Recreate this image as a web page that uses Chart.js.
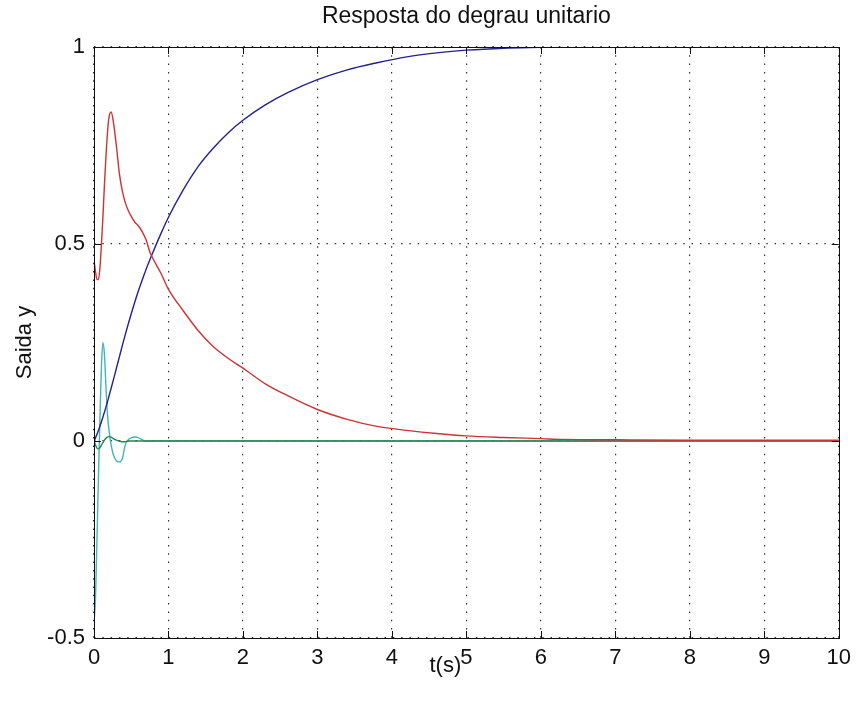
<!DOCTYPE html>
<html>
<head>
<meta charset="utf-8">
<title>Resposta do degrau unitario</title>
<script src="https://cdn.jsdelivr.net/npm/chart.js@4.4.1/dist/chart.umd.min.js"></script>
<style>
   body { margin: 0; background: #fff; }
   canvas { display: block; }
</style>
</head>
<body>
<canvas id="myChart" width="858" height="704"></canvas>
<script>
// tempo (s)
var t = [0, 0.02, 0.04, 0.06, 0.08, 0.10, 0.12, 0.14, 0.16, 0.18,
         0.20, 0.23, 0.26, 0.30, 0.34, 0.38, 0.42, 0.46, 0.50, 0.55,
         0.60, 0.65, 0.70, 0.75, 0.80, 0.90, 1.0, 1.2, 1.4, 1.6,
         1.8, 2.0, 2.3, 2.6, 3.0, 3.4, 3.8, 4.2, 4.6, 5.0,
         5.5, 6.0, 6.3, 7, 8, 9, 10];

var yBlue = [0, 0.008, 0.017, 0.027, 0.038, 0.049, 0.061, 0.073, 0.086, 0.099,
             0.113, 0.134, 0.155, 0.184, 0.213, 0.242, 0.270, 0.297, 0.323, 0.354,
             0.383, 0.410, 0.436, 0.460, 0.483, 0.527, 0.568, 0.638, 0.697, 0.743,
             0.782, 0.814, 0.853, 0.884, 0.917, 0.942, 0.960, 0.975, 0.985, 0.992,
             0.997, 0.999, 1.0, null, null, null, null];

var yRed = [0.46, 0.43, 0.41, 0.41, 0.44, 0.50, 0.57, 0.65, 0.72, 0.78,
            0.82, 0.835, 0.81, 0.75, 0.68, 0.635, 0.605, 0.585, 0.57, 0.555,
            0.545, 0.53, 0.51, 0.48, 0.46, 0.425, 0.385, 0.33, 0.28, 0.24,
            0.21, 0.185, 0.145, 0.115, 0.08, 0.055, 0.037, 0.027, 0.019, 0.013,
            0.009, 0.006, 0.004, 0.003, 0.002, 0.002, 0.002];

var yCyan = [-0.46, -0.40, -0.25, -0.09, 0.06, 0.19, 0.25, 0.22, 0.14, 0.07,
             0.03, -0.01, -0.035, -0.05, -0.053, -0.045, -0.01, 0.003, 0.008, 0.01,
             0.008, 0.003, 0, 0, 0, 0, 0, 0, 0, 0,
             0, 0, 0, 0, 0, 0, 0, 0, 0, 0,
             0, 0, 0, 0, 0, 0, 0];

var yGreen = [0, -0.01, -0.018, -0.02, -0.017, -0.01, -0.004, 0.002, 0.007, 0.01,
              0.011, 0.01, 0.006, 0.002, 0, -0.002, -0.002, 0, 0, 0,
              0, 0, 0, 0, 0, 0, 0, 0, 0, 0,
              0, 0, 0, 0, 0, 0, 0, 0, 0, 0,
              0, 0, 0, 0, 0, 0, 0];

var xTicks = [0, 1, 2, 3, 4, 5, 6, 7, 8, 9, 10];
var xTickLabels = ['0', '1', '2', '3', '4', '5', '6', '7', '8', '9', '10'];
var yTicks = [-0.5, 0, 0.5, 1];
var yTickLabels = ['-0.5', '0', '0.5', '1'];

var titleText = 'Resposta do degrau unitario';
var xLabel = 't(s)';
var yLabel = 'Saida y';

function points(ys) {
   var out = [];
   for (var i = 0; i < t.length; i++) {
      if (ys[i] !== null) out.push({x: t[i], y: ys[i]});
   }
   return out;
}

function line(ys, color, order) {
   return {
      data: points(ys),
      borderColor: color,
      borderWidth: 1.4,
      pointRadius: 0,
      fill: false,
      cubicInterpolationMode: 'monotone',
      order: order
   };
}

// box, inward ticks and the x label (matlab puts it a bit left of centre)
var axesBox = {
   id: 'axesBox',
   afterDraw: function(chart) {
      var ctx = chart.ctx;
      var a = chart.chartArea;
      var sx = chart.scales.x, sy = chart.scales.y;
      var len = 7;
      ctx.save();
      ctx.strokeStyle = '#111';
      ctx.lineWidth = 1;
      ctx.strokeRect(Math.round(a.left) + 0.5, Math.round(a.top) + 0.5,
                     Math.round(a.right - a.left), Math.round(a.bottom - a.top));
      ctx.beginPath();
      xTicks.forEach(function(v) {
         var px = Math.round(sx.getPixelForValue(v)) + 0.5;
         ctx.moveTo(px, a.bottom); ctx.lineTo(px, a.bottom - len);
         ctx.moveTo(px, a.top); ctx.lineTo(px, a.top + len);
      });
      yTicks.forEach(function(v) {
         var py = Math.round(sy.getPixelForValue(v)) + 0.5;
         ctx.moveTo(a.left, py); ctx.lineTo(a.left + len, py);
         ctx.moveTo(a.right, py); ctx.lineTo(a.right - len, py);
      });
      ctx.stroke();

      ctx.fillStyle = '#111';
      ctx.font = "22px 'Liberation Sans', Arial, sans-serif";
      ctx.textAlign = 'center';
      ctx.textBaseline = 'middle';
      ctx.fillText(xLabel, (a.left + a.right) / 2 - 21, a.bottom + 28);
      ctx.restore();
   }
};

Chart.defaults.font.family = "'Liberation Sans', Arial, sans-serif";
Chart.defaults.color = '#111';

var context = document.getElementById('myChart').getContext('2d');
var chart = new Chart(context, {
   type: 'line',
   data: {
      datasets: [
         line(yRed, '#cc3333', 1),
         line(yBlue, '#22228f', 2),
         line(yGreen, '#208850', 3),
         line(yCyan, '#44b6b6', 4)
      ]
   },
   options: {
      responsive: false,
      animation: false,
      devicePixelRatio: 1,
      layout: { padding: { left: 0, right: 17, top: 0, bottom: 0 } },
      plugins: {
         legend: { display: false },
         tooltip: { enabled: false },
         title: {
            display: true,
            fullSize: false,
            text: titleText,
            color: '#111',
            font: { size: 23, weight: 'normal' },
            padding: { top: 3, bottom: 16.4 }
         }
      },
      scales: {
         x: {
            type: 'linear',
            min: 0,
            max: 10,
            afterBuildTicks: function(scale) {
               scale.ticks = xTicks.map(function(v) { return {value: v}; });
            },
            afterFit: function(scale) { scale.height = 66; },
            ticks: {
               font: { size: 22 }, color: '#111', padding: 7, maxRotation: 0, autoSkip: false,
               callback: function(v, i) { return xTickLabels[i]; }
            },
            grid: { color: '#333', lineWidth: 1.2, drawTicks: false },
            border: { display: false, dash: [1.5, 6.8] }
         },
         y: {
            type: 'linear',
            min: -0.5,
            max: 1,
            afterBuildTicks: function(scale) {
               scale.ticks = yTicks.map(function(v) { return {value: v}; });
            },
            afterFit: function(scale) { scale.width = 94; },
            ticks: {
               font: { size: 22 }, color: '#111', padding: 9, autoSkip: false,
               callback: function(v, i) { return yTickLabels[i]; }
            },
            grid: { color: '#333', lineWidth: 1.2, drawTicks: false },
            border: { display: false, dash: [1.5, 6.8] },
            title: { display: true, text: yLabel, color: '#111', font: { size: 22 }, padding: { top: 12, bottom: 0 } }
         }
      }
   },
   plugins: [axesBox]
});
</script>
</body>
</html>
